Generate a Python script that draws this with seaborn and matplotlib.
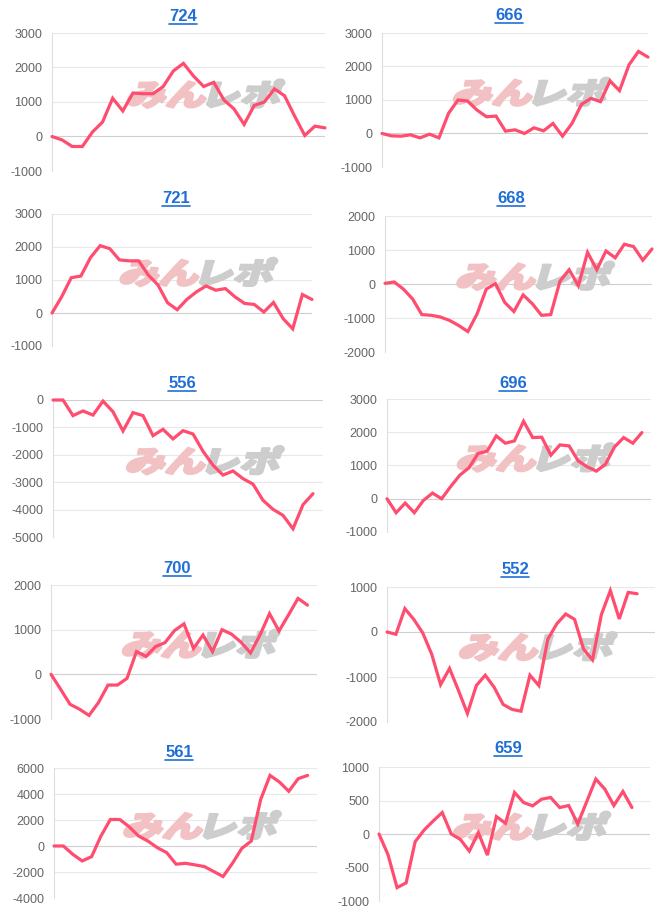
import numpy as np
import pandas as pd
import matplotlib
matplotlib.use("Agg")
import matplotlib.pyplot as plt
import seaborn as sns
from matplotlib.textpath import TextPath
from matplotlib.font_manager import FontProperties
from matplotlib.patches import PathPatch
from matplotlib.transforms import Affine2D, IdentityTransform
from matplotlib.lines import Line2D

# ---------------- data ----------------
titles = ["724", "666", "721", "668", "556", "696", "700", "552", "561", "659"]

values_724 = [0, -100, -290, -290, 130, 420, 1110, 740, 1260, 1240, 1240, 1450, 1900, 2120,
              1750, 1450, 1570, 1060, 800, 350, 900, 1000, 1380, 1180, 590, 30, 300, 250]
values_666 = [0, -70, -80, -40, -130, -20, -130, 600, 1000, 970, 700, 500, 520, 70, 110, 0,
              170, 80, 300, -80, 300, 870, 1050, 950, 1570, 1280, 2050, 2450, 2280]
values_721 = [0, 490, 1070, 1120, 1680, 2040, 1950, 1610, 1580, 1580, 1150, 850, 310, 100,
              410, 640, 820, 690, 740, 490, 290, 260, 30, 320, -170, -480, 560, 410]
values_668 = [20, 60, -150, -440, -900, -920, -970, -1070, -1220, -1400, -880, -150, 10,
              -540, -810, -320, -580, -920, -900, 80, 420, -50, 930, 420, 970, 770, 1170,
              1100, 700, 1030]
values_556 = [0, 0, -570, -400, -550, -40, -430, -1130, -460, -570, -1300, -1070, -1420,
              -1120, -1240, -1870, -2380, -2740, -2590, -2870, -3070, -3660, -3990, -4210,
              -4700, -3820, -3420]
values_696 = [0, -420, -130, -420, -50, 170, 0, 370, 710, 930, 1360, 1430, 1890, 1670, 1740,
              2330, 1840, 1850, 1310, 1620, 1590, 1140, 960, 830, 1040, 1560, 1840, 1670, 1990]
values_700 = [0, -330, -670, -780, -920, -630, -240, -240, -90, 510, 400, 620, 710, 980, 1130,
              580, 880, 510, 1000, 900, 720, 480, 880, 1360, 970, 1330, 1700, 1550]
values_552 = [0, -50, 520, 280, -20, -490, -1170, -810, -1300, -1810, -1190, -960, -1230,
              -1610, -1720, -1760, -960, -1190, -160, 180, 400, 280, -380, -620, 390, 920,
              290, 880, 850]
values_561 = [0, 0, -640, -1150, -820, 770, 2040, 2040, 1480, 770, 380, -130, -510, -1400,
              -1330, -1450, -1580, -1960, -2350, -1330, -180, 380, 3570, 5430, 4920, 4210,
              5180, 5430]
values_659 = [0, -310, -800, -730, -115, 60, 195, 320, 0, -80, -255, 20, -315, 260, 160, 620,
              470, 420, 520, 545, 395, 425, 150, 485, 820, 670, 425, 635, 395]

# number of x categories per chart
category_counts = [28, 29, 28, 30, 28, 30, 29, 31, 29, 31]

ticks_724 = [-1000, 0, 1000, 2000, 3000]
ticks_666 = [-1000, 0, 1000, 2000, 3000]
ticks_721 = [-1000, 0, 1000, 2000, 3000]
ticks_668 = [-2000, -1000, 0, 1000, 2000]
ticks_556 = [-5000, -4000, -3000, -2000, -1000, 0]
ticks_696 = [-1000, 0, 1000, 2000, 3000]
ticks_700 = [-1000, 0, 1000, 2000]
ticks_552 = [-2000, -1000, 0, 1000]
ticks_561 = [-4000, -2000, 0, 2000, 4000, 6000]
ticks_659 = [-1000, -500, 0, 500, 1000]

all_values = [values_724, values_666, values_721, values_668, values_556,
              values_696, values_700, values_552, values_561, values_659]
all_ticks = [ticks_724, ticks_666, ticks_721, ticks_668, ticks_556,
             ticks_696, ticks_700, ticks_552, ticks_561, ticks_659]

# ---------------- layout / style ----------------
W, H = 666, 913
DPI = 100
# (left, right, top, bottom) of each plot area, pixels from top-left
boxes = [(52, 325, 33, 171), (382, 648, 33, 167),
         (52, 312, 214, 346), (385, 652, 216, 352),
         (53, 323, 400, 537), (387, 651, 399, 532),
         (51, 317, 585, 719), (387, 655, 587, 722),
         (54, 317, 768, 898), (379, 650, 767, 901)]
title_pos = [(183, 21), (509, 20), (176, 203), (511, 203), (182, 388),
             (513, 388), (177, 573), (515, 574), (179, 757), (508, 753)]

LINE_COLOR = "#ff4d6f"
GRID_COLOR = "#e8e8e8"
ZERO_COLOR = "#cfcfcf"
TICK_TEXT = "#666666"
TITLE_COLOR = "#1f6fd6"

sns.set_style("white")
plt.rcParams["font.family"] = ["Liberation Sans", "DejaVu Sans"]
plt.rcParams["axes.unicode_minus"] = False

fig = plt.figure(figsize=(W / DPI, H / DPI), dpi=DPI)
fig.patch.set_facecolor("white")

wm_font = FontProperties(family="Noto Sans CJK JP", weight="heavy")


def add_watermark(ax):
    cx, cy = ax.transAxes.transform((0.55, 0.56))
    size = 40
    vs = 0.74
    p1 = TextPath((0, 0), "みん", size=size, prop=wm_font)
    p2 = TextPath((0, 0), "レポ", size=size, prop=wm_font)
    e1 = p1.get_extents()
    e2 = p2.get_extents()
    gap = 3
    w1 = e1.x1 - e1.x0
    w2 = e2.x1 - e2.x0
    total = w1 + gap + w2
    ylo = min(e1.y0, e2.y0)
    hgt = (max(e1.y1, e2.y1) - ylo) * vs
    x0 = cx - total / 2
    y0 = cy - hgt / 2 - ylo * vs
    skew = Affine2D().scale(1.0, vs).skew_deg(16, 0)
    t1 = Affine2D().translate(-e1.x0, 0) + skew + Affine2D().translate(x0, y0)
    t2 = Affine2D().translate(-e2.x0, 0) + skew + Affine2D().translate(x0 + w1 + gap, y0)
    for path, tr, col in [(p1, t1, "#f1c1c4"), (p2, t2, "#cdcdcd")]:
        patch = PathPatch(path, transform=tr, facecolor=col, edgecolor=col,
                          linewidth=1.8, joinstyle="round", zorder=1)
        ax.add_patch(patch)


axes = []
for i in range(10):
    L, R, T, B = boxes[i]
    ax = fig.add_axes([L / W, 1 - B / H, (R - L) / W, (B - T) / H])
    axes.append(ax)
    vals = all_values[i]
    ticks = all_ticks[i]
    df = pd.DataFrame({"x": np.arange(len(vals)), "y": vals})
    sns.lineplot(data=df, x="x", y="y", ax=ax, color=LINE_COLOR, linewidth=2.3,
                 zorder=3, solid_joinstyle="miter", clip_on=False)
    ax.set_xlim(0, category_counts[i] - 1)
    ax.set_ylim(ticks[0], ticks[-1])
    ax.set_yticks(ticks)
    ax.set_yticklabels([str(t) for t in ticks])
    ax.set_xticks([])
    ax.set_xlabel("")
    ax.set_ylabel("")
    ax.set_facecolor("none")
    for s in ["top", "right", "bottom"]:
        ax.spines[s].set_visible(False)
    ax.spines["left"].set_color("#dedede")
    ax.spines["left"].set_linewidth(0.8)
    ax.tick_params(axis="y", length=5.5, width=0.8, color=GRID_COLOR, pad=1.5,
                   labelsize=9, labelcolor=TICK_TEXT)
    ax.yaxis.grid(True, color=GRID_COLOR, linewidth=0.8)
    ax.set_axisbelow(True)
    for t, gl in zip(ticks, ax.get_ygridlines()):
        if t == 0:
            gl.set_color(ZERO_COLOR)
    add_watermark(ax)

# titles with underline
title_texts = []
for i in range(10):
    x, yb = title_pos[i]
    t = fig.text(x / W, 1 - yb / H, titles[i], ha="center", va="baseline",
                 fontsize=12, fontweight="bold", color=TITLE_COLOR)
    title_texts.append((t, yb))

fig.canvas.draw()
renderer = fig.canvas.get_renderer()
for t, yb in title_texts:
    bb = t.get_window_extent(renderer)
    yline = H - yb - 2.5
    fig.add_artist(Line2D([bb.x0, bb.x1], [yline, yline], transform=IdentityTransform(),
                          color=TITLE_COLOR, linewidth=1.2))

fig.savefig("out.png", dpi=DPI, facecolor="white")
